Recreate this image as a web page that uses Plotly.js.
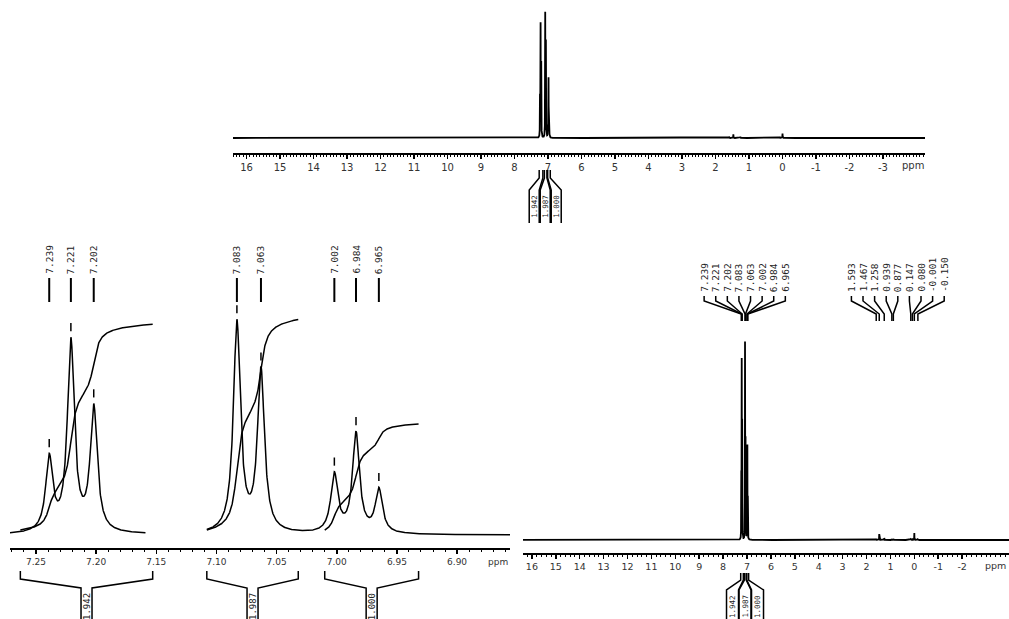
<!DOCTYPE html>
<html>
<head>
<meta charset="utf-8">
<script src="https://cdn.plot.ly/plotly-3.0.1.min.js"></script>
<style>
  html, body { margin: 0; padding: 0; background: #fff; }
  #nmr { width: 1009px; height: 619px; }
</style>
</head>
<body>
<div id="nmr"></div>
<script>
// ---- 1H NMR peak list: line positions (ppm) and amplitudes (tallest line = ~1) ----
const peakPpm = [7.239, 7.221, 7.202, 7.083, 7.063, 7.002, 6.984, 6.965,
                 1.593, 1.467, 1.258, 0.939, 0.877, 0.147, 0.080, -0.001, -0.150];
const peakAmp = [0.342, 0.887, 0.578, 0.978, 0.751, 0.271, 0.463, 0.203,
                 0.006, 0.030, 0.010, 0.005, 0.005, 0.004, 0.008, 0.035, 0.004];
const peakHalfWidth = 0.0035;           // Lorentzian half width at half height, ppm
const aromaticCount = 8;                // first eight lines form the aromatic multiplets

// ---- integration regions (ppm) and integral values ----
const integralFrom  = [7.263, 7.108, 7.010];
const integralTo    = [7.153, 7.032, 6.932];
const integralValue = [1.942, 1.987, 1.000];

// ---- axis tick values ----
const topTicks  = [16, 15, 14, 13, 12, 11, 10, 9, 8, 7, 6, 5, 4, 3, 2, 1, 0, -1, -2, -3];
const fullTicks = [16, 15, 14, 13, 12, 11, 10, 9, 8, 7, 6, 5, 4, 3, 2, 1, 0, -1, -2];
const expTicks  = [7.25, 7.20, 7.15, 7.10, 7.05, 7.00, 6.95, 6.90];

// spectral windows plotted in the aromatic expansion
const expansionWindows = [[7.272, 7.159], [7.108, 6.856]];

// ---- page geometry helpers (pixels -> paper fractions) ----
const W = 1009, H = 619;
const fy = p => 1 - p / H;
const fx = p => p / W;

const panels = {
  top:  { xd: [233, 925],  yd: [153, 5],   xr: [16.403, -4.254], yr: [-0.119, 1.056] },
  exp:  { xd: [10, 510],   yd: [548, 290], xr: [7.2716, 6.856],  yr: [-0.0605, 1.1395] },
  full: { xd: [523, 1009], yd: [553, 325], xr: [16.372, -3.962], yr: [-0.0657, 1.0858] }
};
const pxPerPpm = pn => (pn.xd[1] - pn.xd[0]) / (pn.xr[0] - pn.xr[1]);

// ---- line shape ----
function intensity(v) {
  const w2 = peakHalfWidth * peakHalfWidth;
  let s = 0;
  for (let i = 0; i < peakPpm.length; i++) {
    const d = v - peakPpm[i];
    s += peakAmp[i] * w2 / (d * d + w2);
  }
  return s;
}

function grid(hi, lo, step, extra) {
  const n = Math.round((hi - lo) / step);
  const xs = [];
  for (let k = 0; k <= n; k++) xs.push(hi - k * step);
  extra.forEach(v => { if (v <= hi && v >= lo) xs.push(v); });
  xs.sort((a, b) => b - a);
  return xs;
}

// full-range sampling: coarse grid plus fine sampling around every line
const fineAround = [];
peakPpm.forEach(p => { for (let k = -120; k <= 120; k++) fineAround.push(p + k * 0.0005); });
const fullX = grid(16.6, -4.6, 0.01, fineAround.concat(peakPpm));
const fullY = fullX.map(intensity);

// expansion sampling, one run per window with a break between them
const expX = [], expY = [];
expansionWindows.forEach((win, i) => {
  const xs = grid(win[0], win[1], 0.0002, peakPpm);
  xs.forEach(v => { expX.push(v); expY.push(intensity(v)); });
  if (i < expansionWindows.length - 1) { expX.push(null); expY.push(null); }
});

// integral curves drawn over the expansion
const integralScale = 0.493;   // expansion y units per integral unit
const integralBase = 0.023;
const integralTraces = integralFrom.map((from, r) => {
  const xs = grid(from, integralTo[r], 0.0002, []);
  const cum = [0];
  for (let k = 1; k < xs.length; k++) {
    cum.push(cum[k - 1] + 0.5 * (intensity(xs[k]) + intensity(xs[k - 1])) * (xs[k - 1] - xs[k]));
  }
  const total = cum[cum.length - 1];
  return {
    x: xs, y: cum.map(c => integralBase + c / total * integralValue[r] * integralScale),
    type: 'scatter', mode: 'lines', xaxis: 'x2', yaxis: 'y2',
    line: { color: '#000', width: 1.5 }, hoverinfo: 'skip'
  };
});

const traces = [
  { x: fullX, y: fullY, type: 'scatter', mode: 'lines', xaxis: 'x', yaxis: 'y',
    line: { color: '#000', width: 1.8 }, hoverinfo: 'skip' },
  { x: expX, y: expY, type: 'scatter', mode: 'lines', xaxis: 'x2', yaxis: 'y2',
    line: { color: '#000', width: 1.5 }, connectgaps: false, hoverinfo: 'skip' },
  ...integralTraces,
  { x: fullX, y: fullY, type: 'scatter', mode: 'lines', xaxis: 'x3', yaxis: 'y3',
    line: { color: '#000', width: 1.8 }, hoverinfo: 'skip' }
];

// ---- axes ----
function xAxis(pn, anchor, ticks, decimals, fontSize, minorStep) {
  return {
    domain: [fx(pn.xd[0]), fx(pn.xd[1])], range: pn.xr, anchor: anchor,
    tickmode: 'array', tickvals: ticks,
    ticktext: ticks.map(t => t.toFixed(decimals)),
    showline: true, linecolor: '#000', linewidth: 2,
    ticks: 'outside', ticklen: 4, tickwidth: 1.5, tickcolor: '#000',
    minor: { ticks: 'outside', ticklen: 2, tickwidth: 1, tickcolor: '#000',
             tickmode: 'linear', tick0: 0, dtick: minorStep, showgrid: false },
    showgrid: false, zeroline: false, fixedrange: true,
    tickfont: { family: 'DejaVu Sans', size: fontSize, color: '#333' }
  };
}
function yAxis(pn, anchor) {
  return {
    domain: [fy(pn.yd[0]), fy(pn.yd[1])], range: pn.yr, anchor: anchor,
    visible: false, showgrid: false, zeroline: false, fixedrange: true
  };
}

const shapes = [];
const annotations = [];
const mono = size => ({ family: 'DejaVu Sans Mono', size: size, color: '#222' });
const fmt = v => v.toFixed(3);

// unit labels
[[913, 166, 10], [498, 562, 9], [995, 565, 9.5]].forEach(([x, y, s]) => {
  annotations.push({ x: fx(x), y: fy(y), xref: 'paper', yref: 'paper', text: 'ppm',
    showarrow: false, xanchor: 'center', yanchor: 'middle',
    font: { family: 'DejaVu Sans', size: s, color: '#333' } });
});

// ---- expansion: peak labels, marker bars and peak-pick ticks ----
for (let i = 0; i < aromaticCount; i++) {
  const p = peakPpm[i];
  shapes.push({ type: 'line', xref: 'x2', yref: 'paper', x0: p, x1: p, y0: fy(302), y1: fy(278),
    line: { color: '#000', width: 2 } });
  annotations.push({ x: p, xref: 'x2', y: fy(276), yref: 'paper', text: fmt(p), textangle: -90,
    showarrow: false, xanchor: 'center', yanchor: 'bottom', font: mono(9.5) });
  const h = intensity(p);
  shapes.push({ type: 'line', xref: 'x2', yref: 'y2', x0: p, x1: p, y0: h + 0.028, y1: h + 0.066,
    line: { color: '#000', width: 1.5 } });
}

// ---- full spectrum: fanned peak labels ----
function fanLabels(indices) {
  const pn = panels.full;
  const sp = 11.6 / pxPerPpm(pn);
  const n = indices.length;
  const c = indices.reduce((a, i) => a + peakPpm[i], 0) / n;
  indices.forEach((idx, k) => {
    const lx = c - (k - (n - 1) / 2) * sp;
    const p = peakPpm[idx];
    shapes.push({ type: 'path', xref: 'x3', yref: 'paper',
      path: `M ${lx},${fy(296)} L ${lx},${fy(301)} L ${p},${fy(314)} L ${p},${fy(321)}`,
      line: { color: '#000', width: 1.5 } });
    annotations.push({ x: lx, xref: 'x3', y: fy(294), yref: 'paper', text: fmt(p), textangle: -90,
      showarrow: false, xanchor: 'center', yanchor: 'bottom', font: mono(9.5) });
  });
}
fanLabels([...Array(aromaticCount).keys()]);
fanLabels([...Array(peakPpm.length - aromaticCount).keys()].map(k => k + aromaticCount));

// ---- integral brackets under an axis ----
function brackets(axis, pn, opt) {
  const ppx = pxPerPpm(pn);
  const centers = integralFrom.map((f, r) => (f + integralTo[r]) / 2);
  const mean = centers.reduce((a, b) => a + b, 0) / centers.length;
  integralFrom.forEach((from, r) => {
    const to = integralTo[r];
    const cc = opt.spread ? mean - (r - (integralFrom.length - 1) / 2) * opt.spread / ppx : centers[r];
    const hw = opt.colWidth / 2 / ppx;
    shapes.push({ type: 'path', xref: axis, yref: 'paper',
      path: `M ${from},${fy(opt.yt)} L ${from},${fy(opt.ys)} L ${cc + hw},${fy(opt.yc)} L ${cc + hw},${fy(opt.yb)} ` +
            `M ${to},${fy(opt.yt)} L ${to},${fy(opt.ys)} L ${cc - hw},${fy(opt.yc)} L ${cc - hw},${fy(opt.yb)}`,
      line: { color: '#000', width: 1.5 } });
    annotations.push({ x: cc, xref: axis, y: fy(opt.yc + 3), yref: 'paper', text: fmt(integralValue[r]),
      textangle: -90, showarrow: false, xanchor: 'center', yanchor: 'top', font: mono(opt.font) });
  });
}
brackets('x',  panels.top,  { yt: 170, ys: 178, yc: 190, yb: 223, colWidth: 10, spread: 11, font: 7.5 });
brackets('x2', panels.exp,  { yt: 571, ys: 579, yc: 588, yb: 640, colWidth: 11, font: 9 });
brackets('x3', panels.full, { yt: 573, ys: 580, yc: 590, yb: 640, colWidth: 12, spread: 12.5, font: 7.5 });

const layout = {
  width: W, height: H,
  margin: { l: 0, r: 0, t: 0, b: 0, pad: 0 },
  paper_bgcolor: '#fff', plot_bgcolor: 'rgba(0,0,0,0)',
  showlegend: false,
  xaxis:  xAxis(panels.top, 'y', topTicks, 0, 10, 0.1),
  yaxis:  yAxis(panels.top, 'x'),
  xaxis2: xAxis(panels.exp, 'y2', expTicks, 2, 9, 0.01),
  yaxis2: yAxis(panels.exp, 'x2'),
  xaxis3: xAxis(panels.full, 'y3', fullTicks, 0, 9.5, 0.2),
  yaxis3: yAxis(panels.full, 'x3'),
  shapes: shapes,
  annotations: annotations
};

Plotly.newPlot('nmr', traces, layout, { staticPlot: true, displayModeBar: false });
</script>
</body>
</html>
